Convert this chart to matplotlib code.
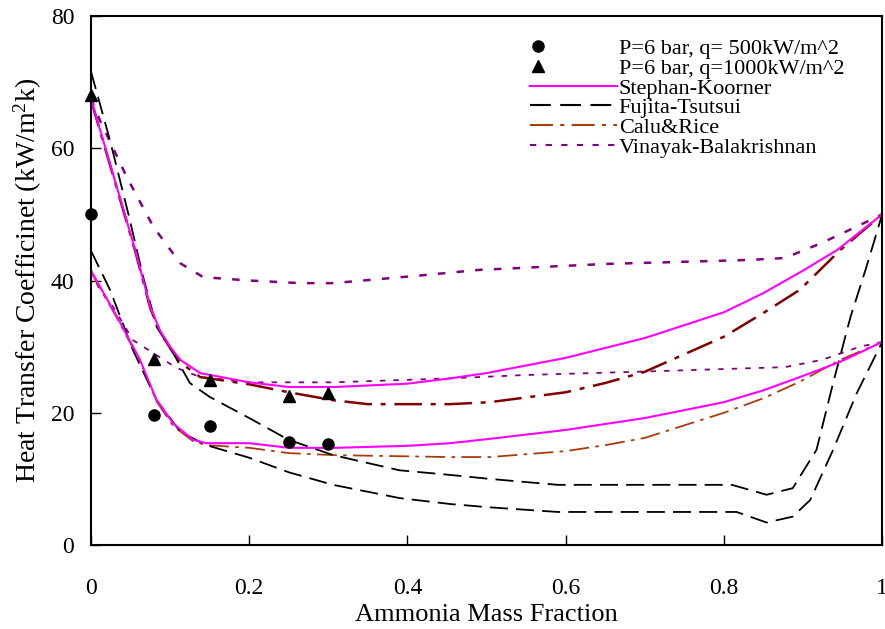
import matplotlib
matplotlib.use("Agg")
import matplotlib.pyplot as plt
import numpy as np
from matplotlib.lines import Line2D
from matplotlib.legend_handler import HandlerLine2D

plt.rcParams["font.family"] = ["Liberation Serif", "DejaVu Serif"]
plt.rcParams["mathtext.fontset"] = "custom"
plt.rcParams["mathtext.rm"] = "Liberation Serif"
plt.rcParams["mathtext.it"] = "Liberation Serif"

# ---- measured points ----
x_q500 = [0.0, 0.08, 0.15, 0.25, 0.30]
h_q500 = [50.0, 19.6, 18.0, 15.6, 15.3]
x_q1000 = [0.0, 0.08, 0.15, 0.25, 0.30]
h_q1000 = [68.0, 28.2, 25.0, 22.5, 23.0]

# ---- Stephan-Koorner ----
sk_hi_x = [0, 0.056, 0.075, 0.087, 0.1, 0.113, 0.138, 0.2, 0.25, 0.31, 0.4, 0.454,
           0.5, 0.6, 0.7, 0.8, 0.85, 0.9, 0.943, 1.0]
sk_hi_y = [67.5, 44.6, 36.0, 32.5, 30.0, 28.0, 26.0, 24.6, 23.9, 23.9, 24.4, 25.2,
           26.0, 28.3, 31.3, 35.2, 38.1, 41.5, 44.6, 50.0]
sk_lo_x = [0, 0.033, 0.062, 0.083, 0.104, 0.129, 0.146, 0.2, 0.25, 0.31, 0.4, 0.454,
           0.5, 0.6, 0.7, 0.8, 0.85, 0.896, 0.947, 1.0]
sk_lo_y = [41.5, 34.5, 28.0, 21.9, 18.4, 15.9, 15.4, 15.4, 14.7, 14.7, 15.0, 15.4,
           16.0, 17.4, 19.2, 21.6, 23.4, 25.4, 27.7, 30.7]

# ---- Fujita-Tsutsui ----
ft_hi_x = [0, 0.024, 0.047, 0.066, 0.083, 0.104, 0.125, 0.15, 0.2, 0.25, 0.306, 0.39,
           0.454, 0.504, 0.59, 0.81, 0.854, 0.887, 0.917, 0.938, 0.96, 0.98, 1.0]
ft_hi_y = [71.6, 61.2, 50.2, 40.5, 33.0, 29.0, 24.5, 22.4, 19.2, 15.9, 13.6, 11.3,
           10.6, 10.0, 9.1, 9.1, 7.6, 8.6, 14.4, 24.5, 34.5, 42.0, 50.0]
ft_lo_x = [0, 0.024, 0.053, 0.083, 0.113, 0.146, 0.2, 0.25, 0.306, 0.39, 0.454, 0.504,
           0.59, 0.816, 0.854, 0.887, 0.909, 0.938, 0.968, 1.0]
ft_lo_y = [44.5, 38.6, 29.5, 21.9, 17.1, 15.1, 13.2, 11.0, 9.1, 7.1, 6.2, 5.7,
           5.0, 5.0, 3.4, 4.3, 6.8, 14.4, 23.0, 30.7]

# ---- Calu & Rice ----
cr_hi_x = [0, 0.056, 0.075, 0.087, 0.1, 0.113, 0.138, 0.2, 0.25, 0.306, 0.35, 0.454,
           0.504, 0.6, 0.65, 0.7, 0.8, 0.85, 0.896, 0.947, 1.0]
cr_hi_y = [67.3, 44.4, 35.8, 32.3, 29.8, 27.6, 25.4, 24.3, 23.1, 21.9, 21.3, 21.3,
           21.6, 23.1, 24.5, 26.2, 31.5, 35.1, 38.6, 44.6, 50.0]
cr_lo_x = [0, 0.033, 0.062, 0.083, 0.104, 0.129, 0.146, 0.2, 0.25, 0.306, 0.454,
           0.504, 0.6, 0.65, 0.7, 0.8, 0.85, 0.896, 0.947, 1.0]
cr_lo_y = [41.3, 34.3, 27.8, 21.7, 18.0, 15.7, 15.1, 14.7, 13.9, 13.6, 13.3,
           13.3, 14.2, 15.1, 16.2, 20.0, 22.2, 24.7, 28.0, 30.7]

# ---- Vinayak-Balakrishnan ----
vb_hi_x = [0, 0.011, 0.045, 0.079, 0.113, 0.142, 0.2, 0.264, 0.306, 0.42, 0.49,
           0.65, 0.83, 0.877, 0.924, 0.972, 1.0]
vb_hi_y = [67.5, 64.3, 55.7, 48.1, 42.6, 40.5, 40.0, 39.6, 39.6, 40.8, 41.6,
           42.5, 43.1, 43.4, 45.7, 48.4, 50.0]
vb_lo_x = [0, 0.011, 0.028, 0.053, 0.079, 0.108, 0.138, 0.2, 0.306, 0.454, 0.547,
           0.69, 0.85, 0.877, 0.924, 0.972, 1.0]
vb_lo_y = [41.5, 38.6, 36.0, 31.0, 29.0, 26.8, 25.4, 24.6, 24.6, 25.2, 25.7,
           26.2, 26.8, 26.9, 28.0, 30.0, 30.7]

MAGENTA = "#ff00ff"
DARKRED = "#800000"
BROWN = "#a83c0c"
PURPLE = "#800080"


class LeftMarkerHandler(HandlerLine2D):
    """Legend handler that puts a single marker near the left end of the handle."""

    def get_xdata(self, legend, xdescent, ydescent, width, height, fontsize):
        x = np.array([-xdescent + 0.35 * fontsize])
        return x, x


fig = plt.figure(figsize=(8.85, 6.29), dpi=100)
ax = fig.add_axes([0.1028, 0.1335, 0.894, 0.8411])

dash_ft = (0, (10, 4.5))
dash_cr = (0, (11, 3.5, 2, 3.5))
dot_vb = (0, (3, 4.5))

ax.plot(vb_hi_x, vb_hi_y, color=PURPLE, lw=1.8, linestyle=dot_vb)
ax.plot(vb_lo_x, vb_lo_y, color=PURPLE, lw=1.3, linestyle=dot_vb)
ax.plot(cr_hi_x, cr_hi_y, color=DARKRED, lw=1.8, linestyle=dash_cr)
ax.plot(cr_lo_x, cr_lo_y, color=BROWN, lw=1.3, linestyle=dash_cr)
ax.plot(ft_hi_x, ft_hi_y, color="black", lw=1.3, linestyle=dash_ft)
ax.plot(ft_lo_x, ft_lo_y, color="black", lw=1.3, linestyle=dash_ft)
ax.plot(sk_hi_x, sk_hi_y, color=MAGENTA, lw=1.5)
ax.plot(sk_lo_x, sk_lo_y, color=MAGENTA, lw=1.5)

ax.plot(x_q500, h_q500, "o", color="black", ms=8, clip_on=False, zorder=5)
ax.plot(x_q1000, h_q1000, "^", color="black", ms=9, clip_on=False, zorder=5)

ax.set_xlim(0, 1)
ax.set_ylim(0, 80)
ax.set_xticks([0, 0.2, 0.4, 0.6, 0.8, 1.0])
ax.set_xticklabels(["0", "0.2", "0.4", "0.6", "0.8", "1"])
ax.set_yticks([0, 20, 40, 60, 80])
ax.tick_params(direction="in", length=7, width=1, labelsize=17)
ax.tick_params(axis="x", pad=24)
ax.tick_params(axis="y", pad=12)
for sp in ax.spines.values():
    sp.set_linewidth(1.5)

ax.set_xlabel("Ammonia Mass Fraction", fontsize=19, labelpad=3)
ax.set_ylabel("Heat Transfer Coefficinet (kW/m$^2$k)", fontsize=20, labelpad=5)

h_circ = Line2D([], [], marker="o", color="black", linestyle="none", ms=8)
h_tri = Line2D([], [], marker="^", color="black", linestyle="none", ms=9)
handles = [
    h_circ,
    h_tri,
    Line2D([], [], color=MAGENTA, lw=1.5),
    Line2D([], [], color="black", lw=1.5, linestyle=dash_ft),
    Line2D([], [], color=BROWN, lw=1.5, linestyle=dash_cr),
    Line2D([], [], color=PURPLE, lw=1.5, linestyle=dot_vb),
]
labels = ["P=6 bar, q= 500kW/m^2", "P=6 bar, q=1000kW/m^2", "Stephan-Koorner",
          "Fujita-Tsutsui", "Calu&Rice", "Vinayak-Balakrishnan"]
ax.legend(handles, labels, loc="upper left", bbox_to_anchor=(0.5436, 0.974),
          frameon=False, fontsize=16, handlelength=3.9, handletextpad=0.1,
          labelspacing=-0.04, borderaxespad=0,
          handler_map={h_circ: LeftMarkerHandler(numpoints=2),
                       h_tri: LeftMarkerHandler(numpoints=2)})

fig.savefig("out.png", dpi=100)
